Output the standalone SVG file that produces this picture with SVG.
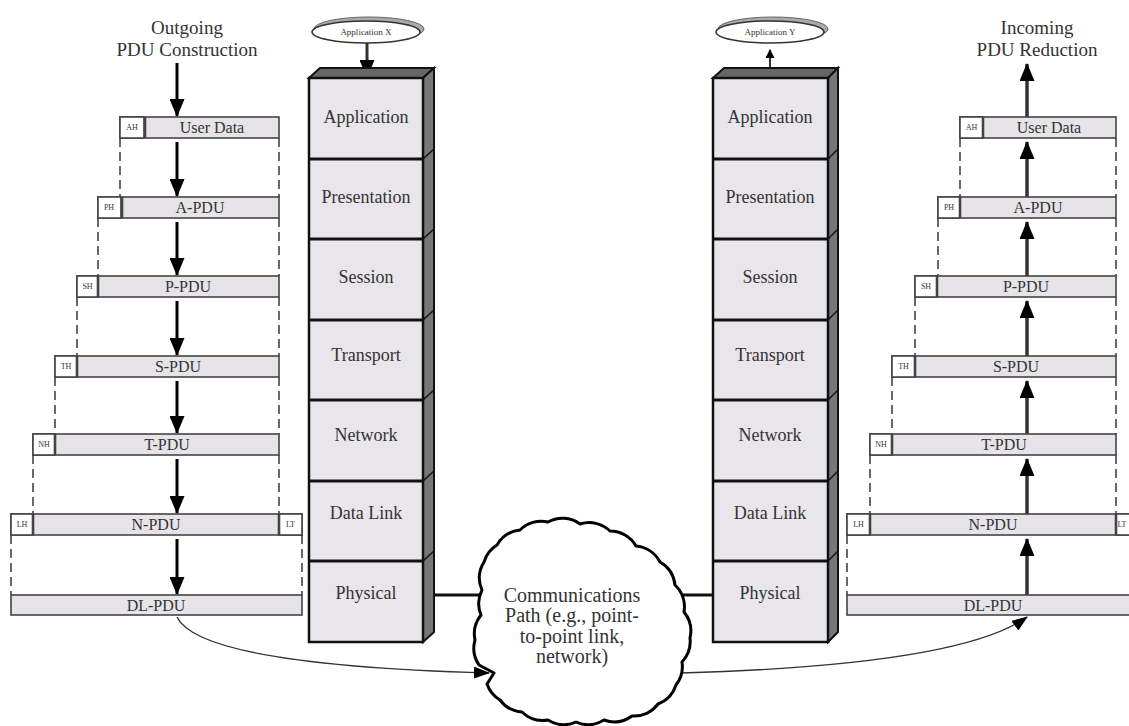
<svg xmlns="http://www.w3.org/2000/svg" width="1129" height="726" viewBox="0 0 1129 726">
<style>
text{font-family:"Liberation Serif","Times New Roman",serif;fill:#333;text-anchor:middle}
.title{font-size:19px}
.layer{font-size:18px}
.pdu{font-size:16px}
.hdr{font-size:8px}
.cloudt{font-size:20px}
.box{fill:#e6e4e9;stroke:#444;stroke-width:1.6}
.hcell{fill:#fff;stroke:#444;stroke-width:1.6}
.hsep{stroke:#444;stroke-width:2.6}
.dash{stroke:#444;stroke-width:1.6;stroke-dasharray:9 5;fill:none}
.arr{stroke:#000;stroke-width:3;marker-end:url(#ah)}
.arrr{stroke:#333;stroke-width:3.5;marker-end:url(#ah)}
.front{fill:#e8e6ea;stroke:#111;stroke-width:2.5}
.side{fill:#777;stroke:#111;stroke-width:2}
.topf{fill:#666;stroke:#111;stroke-width:2}
.div{stroke:#111;stroke-width:3}
.sdiv{stroke:#111;stroke-width:1.5}
.link{stroke:#111;stroke-width:3}
.curve{fill:none;stroke:#333;stroke-width:1.4;marker-end:url(#ch)}
</style>
<defs>
<marker id="ah" markerUnits="userSpaceOnUse" markerWidth="18" markerHeight="15" refX="17" refY="7.5" orient="auto" viewBox="0 0 18 15"><path d="M0,0 L18,7.5 L0,15 z" fill="#000"/></marker>
<marker id="ch" markerUnits="userSpaceOnUse" markerWidth="16" markerHeight="12" refX="15" refY="6" orient="auto" viewBox="0 0 16 12"><path d="M0,0 L16,6 L0,12 z" fill="#000"/></marker>
<marker id="sh" markerUnits="userSpaceOnUse" markerWidth="9" markerHeight="9" refX="8" refY="4.5" orient="auto" viewBox="0 0 9 9"><path d="M0,0 L9,4.5 L0,9 z" fill="#000"/></marker>
</defs>
<rect width="1129" height="726" fill="#fff"/>

<!-- Titles -->
<g id="title-outgoing">
<text class="title" x="187" y="34">Outgoing</text>
<text class="title" x="187" y="56">PDU Construction</text>
</g>
<g id="title-incoming">
<text class="title" x="1037" y="34">Incoming</text>
<text class="title" x="1037" y="56">PDU Reduction</text>
</g>

<!-- Connectors -->
<g id="connectors">
<line class="dash" x1="120" y1="138" x2="120" y2="197"/>
<line class="dash" x1="98" y1="218" x2="98" y2="276"/>
<line class="dash" x1="77" y1="297" x2="77" y2="356"/>
<line class="dash" x1="55" y1="377" x2="55" y2="434"/>
<line class="dash" x1="33" y1="455" x2="33" y2="514"/>
<line class="dash" x1="11" y1="535" x2="11" y2="595"/>
<line class="dash" x1="279" y1="138" x2="279" y2="197"/>
<line class="dash" x1="279" y1="218" x2="279" y2="276"/>
<line class="dash" x1="279" y1="297" x2="279" y2="356"/>
<line class="dash" x1="279" y1="377" x2="279" y2="434"/>
<line class="dash" x1="279" y1="455" x2="279" y2="514"/>
<line class="dash" x1="302" y1="535" x2="302" y2="595"/>
<line class="dash" x1="960" y1="138" x2="960" y2="197"/>
<line class="dash" x1="938" y1="218" x2="938" y2="276"/>
<line class="dash" x1="915" y1="297" x2="915" y2="356"/>
<line class="dash" x1="892" y1="377" x2="892" y2="434"/>
<line class="dash" x1="870" y1="455" x2="870" y2="514"/>
<line class="dash" x1="847" y1="535" x2="847" y2="595"/>
<line class="dash" x1="1116" y1="138" x2="1116" y2="197"/>
<line class="dash" x1="1116" y1="218" x2="1116" y2="276"/>
<line class="dash" x1="1116" y1="297" x2="1116" y2="356"/>
<line class="dash" x1="1116" y1="377" x2="1116" y2="434"/>
<line class="dash" x1="1116" y1="455" x2="1116" y2="514"/>
<line class="arr" x1="177" y1="63" x2="177" y2="116"/>
<line class="arr" x1="177" y1="142" x2="177" y2="196"/>
<line class="arr" x1="177" y1="222" x2="177" y2="275"/>
<line class="arr" x1="177" y1="301" x2="177" y2="355"/>
<line class="arr" x1="177" y1="381" x2="177" y2="433"/>
<line class="arr" x1="177" y1="459" x2="177" y2="513"/>
<line class="arr" x1="177" y1="539" x2="177" y2="594"/>
<line class="arrr" x1="1027" y1="117" x2="1027" y2="64"/>
<line class="arrr" x1="1027" y1="197" x2="1027" y2="142"/>
<line class="arrr" x1="1027" y1="276" x2="1027" y2="222"/>
<line class="arrr" x1="1027" y1="356" x2="1027" y2="301"/>
<line class="arrr" x1="1027" y1="434" x2="1027" y2="381"/>
<line class="arrr" x1="1027" y1="514" x2="1027" y2="459"/>
<line class="arrr" x1="1027" y1="595" x2="1027" y2="539"/>
<line x1="367" y1="43" x2="367" y2="77" stroke="#333" stroke-width="3" marker-end="url(#ah)"/>
<line x1="770" y1="78" x2="770" y2="50" stroke="#333" stroke-width="2" marker-end="url(#sh)"/>
<line class="link" x1="434" y1="595" x2="484" y2="595"/>
<line class="link" x1="677" y1="595" x2="713" y2="595"/>
<path class="curve" d="M177,617 Q200,665 489,673"/>
<path class="curve" d="M681,673 Q960,665 1027,617"/>
</g>

<!-- Left PDU stack -->
<g id="pdu-left-user">
<rect class="box" x="120" y="117" width="159" height="21"/>
<rect class="hcell" x="120" y="117" width="24" height="21"/>
<line class="hsep" x1="145" y1="117" x2="145" y2="138"/>
<text class="hdr" x="132" y="130">AH</text>
<text class="pdu" x="212" y="133">User Data</text>
</g>
<g id="pdu-left-a">
<rect class="box" x="98" y="197" width="181" height="21"/>
<rect class="hcell" x="98" y="197" width="23" height="21"/>
<line class="hsep" x1="122" y1="197" x2="122" y2="218"/>
<text class="hdr" x="109" y="210">PH</text>
<text class="pdu" x="200" y="213">A-PDU</text>
</g>
<g id="pdu-left-p">
<rect class="box" x="77" y="276" width="202" height="21"/>
<rect class="hcell" x="77" y="276" width="21" height="21"/>
<line class="hsep" x1="98" y1="276" x2="98" y2="297"/>
<text class="hdr" x="87.5" y="289">SH</text>
<text class="pdu" x="188" y="292">P-PDU</text>
</g>
<g id="pdu-left-s">
<rect class="box" x="55" y="356" width="224" height="21"/>
<rect class="hcell" x="55" y="356" width="22" height="21"/>
<line class="hsep" x1="77" y1="356" x2="77" y2="377"/>
<text class="hdr" x="66" y="369">TH</text>
<text class="pdu" x="178" y="372">S-PDU</text>
</g>
<g id="pdu-left-t">
<rect class="box" x="33" y="434" width="246" height="21"/>
<rect class="hcell" x="33" y="434" width="22" height="21"/>
<line class="hsep" x1="55" y1="434" x2="55" y2="455"/>
<text class="hdr" x="44" y="447">NH</text>
<text class="pdu" x="167" y="450">T-PDU</text>
</g>
<g id="pdu-left-n">
<rect class="box" x="11" y="514" width="291" height="21"/>
<rect class="hcell" x="11" y="514" width="22" height="21"/>
<rect class="hcell" x="279" y="514" width="23" height="21"/>
<line class="hsep" x1="33" y1="514" x2="33" y2="535"/>
<line class="hsep" x1="279" y1="514" x2="279" y2="535"/>
<text class="hdr" x="22" y="527">LH</text>
<text class="hdr" x="290.5" y="527">LT</text>
<text class="pdu" x="156" y="530">N-PDU</text>
</g>
<g id="pdu-left-dl">
<rect class="box" x="11" y="595" width="291" height="20"/>
<text class="pdu" x="156" y="610.5">DL-PDU</text>
</g>

<!-- Right PDU stack -->
<g id="pdu-right-user">
<rect class="box" x="960" y="117" width="156" height="21"/>
<rect class="hcell" x="960" y="117" width="23" height="21"/>
<line class="hsep" x1="983" y1="117" x2="983" y2="138"/>
<text class="hdr" x="971.5" y="130">AH</text>
<text class="pdu" x="1049" y="133">User Data</text>
</g>
<g id="pdu-right-a">
<rect class="box" x="938" y="197" width="178" height="21"/>
<rect class="hcell" x="938" y="197" width="22" height="21"/>
<line class="hsep" x1="960" y1="197" x2="960" y2="218"/>
<text class="hdr" x="949" y="210">PH</text>
<text class="pdu" x="1038" y="213">A-PDU</text>
</g>
<g id="pdu-right-p">
<rect class="box" x="915" y="276" width="201" height="21"/>
<rect class="hcell" x="915" y="276" width="22" height="21"/>
<line class="hsep" x1="937" y1="276" x2="937" y2="297"/>
<text class="hdr" x="926" y="289">SH</text>
<text class="pdu" x="1026" y="292">P-PDU</text>
</g>
<g id="pdu-right-s">
<rect class="box" x="892" y="356" width="224" height="21"/>
<rect class="hcell" x="892" y="356" width="23" height="21"/>
<line class="hsep" x1="915" y1="356" x2="915" y2="377"/>
<text class="hdr" x="903.5" y="369">TH</text>
<text class="pdu" x="1016" y="372">S-PDU</text>
</g>
<g id="pdu-right-t">
<rect class="box" x="870" y="434" width="246" height="21"/>
<rect class="hcell" x="870" y="434" width="22" height="21"/>
<line class="hsep" x1="892" y1="434" x2="892" y2="455"/>
<text class="hdr" x="881" y="447">NH</text>
<text class="pdu" x="1004" y="450">T-PDU</text>
</g>
<g id="pdu-right-n">
<rect class="box" x="847" y="514" width="293" height="21"/>
<rect class="hcell" x="847" y="514" width="23" height="21"/>
<rect class="hcell" x="1116" y="514" width="24" height="21"/>
<line class="hsep" x1="870" y1="514" x2="870" y2="535"/>
<line class="hsep" x1="1116" y1="514" x2="1116" y2="535"/>
<text class="hdr" x="858.5" y="527">LH</text>
<text class="hdr" x="1122" y="527">LT</text>
<text class="pdu" x="993" y="530">N-PDU</text>
</g>
<g id="pdu-right-dl">
<rect class="box" x="847" y="595" width="293" height="20"/>
<text class="pdu" x="993" y="610.5">DL-PDU</text>
</g>

<!-- Application X -->
<g id="app-x">
<ellipse cx="369" cy="29" rx="55" ry="12" fill="#aaa" stroke="#666" stroke-width="1"/>
<ellipse cx="366" cy="32" rx="54" ry="11" fill="#fff" stroke="#333" stroke-width="1.5"/>
<text x="366" y="35" font-size="9">Application X</text>
</g>
<!-- Application Y -->
<g id="app-y">
<ellipse cx="773" cy="29" rx="55" ry="12" fill="#aaa" stroke="#666" stroke-width="1"/>
<ellipse cx="770" cy="32" rx="54" ry="11" fill="#fff" stroke="#333" stroke-width="1.5"/>
<text x="770" y="35" font-size="9">Application Y</text>
</g>

<!-- Left OSI stack -->
<g id="stack-left">
<polygon class="topf" points="309,78 320,68 434,68 423,78"/>
<polygon class="side" points="423,78 434,68 434,632 423,642"/>
<line class="sdiv" x1="423" y1="159" x2="434" y2="149"/>
<line class="sdiv" x1="423" y1="239" x2="434" y2="229"/>
<line class="sdiv" x1="423" y1="320" x2="434" y2="310"/>
<line class="sdiv" x1="423" y1="400" x2="434" y2="390"/>
<line class="sdiv" x1="423" y1="481" x2="434" y2="471"/>
<line class="sdiv" x1="423" y1="561" x2="434" y2="551"/>
<rect class="front" x="309" y="78" width="114" height="564"/>
<line class="div" x1="309" y1="159" x2="423" y2="159"/>
<line class="div" x1="309" y1="239" x2="423" y2="239"/>
<line class="div" x1="309" y1="320" x2="423" y2="320"/>
<line class="div" x1="309" y1="400" x2="423" y2="400"/>
<line class="div" x1="309" y1="481" x2="423" y2="481"/>
<line class="div" x1="309" y1="561" x2="423" y2="561"/>
<text class="layer" x="366" y="123">Application</text>
<text class="layer" x="366" y="203">Presentation</text>
<text class="layer" x="366" y="283">Session</text>
<text class="layer" x="366" y="361">Transport</text>
<text class="layer" x="366" y="441">Network</text>
<text class="layer" x="366" y="519">Data Link</text>
<text class="layer" x="366" y="599">Physical</text>
</g>

<!-- Right OSI stack -->
<g id="stack-right">
<polygon class="topf" points="713,78 724,68 838,68 828,78"/>
<polygon class="side" points="828,78 838,68 838,632 828,642"/>
<line class="sdiv" x1="828" y1="159" x2="838" y2="149"/>
<line class="sdiv" x1="828" y1="239" x2="838" y2="229"/>
<line class="sdiv" x1="828" y1="320" x2="838" y2="310"/>
<line class="sdiv" x1="828" y1="400" x2="838" y2="390"/>
<line class="sdiv" x1="828" y1="481" x2="838" y2="471"/>
<line class="sdiv" x1="828" y1="561" x2="838" y2="551"/>
<rect class="front" x="713" y="78" width="115" height="564"/>
<line class="div" x1="713" y1="159" x2="828" y2="159"/>
<line class="div" x1="713" y1="239" x2="828" y2="239"/>
<line class="div" x1="713" y1="320" x2="828" y2="320"/>
<line class="div" x1="713" y1="400" x2="828" y2="400"/>
<line class="div" x1="713" y1="481" x2="828" y2="481"/>
<line class="div" x1="713" y1="561" x2="828" y2="561"/>
<text class="layer" x="770" y="123">Application</text>
<text class="layer" x="770" y="203">Presentation</text>
<text class="layer" x="770" y="283">Session</text>
<text class="layer" x="770" y="361">Transport</text>
<text class="layer" x="770" y="441">Network</text>
<text class="layer" x="770" y="519">Data Link</text>
<text class="layer" x="770" y="599">Physical</text>
</g>

<!-- Cloud -->
<g id="cloud">
<path d="M497,545 A30,30 0 0 1 520,530 A30,30 0 0 1 548,522 A30,30 0 0 1 580,524 A30,30 0 0 1 610,531 A30,30 0 0 1 636,546 A30,30 0 0 1 660,562 A30,30 0 0 1 675,585 A30,30 0 0 1 684,612 A30,30 0 0 1 690,638 A30,30 0 0 1 682,662 A30,30 0 0 1 676,685 A30,30 0 0 1 658,704 A30,30 0 0 1 632,716 A30,30 0 0 1 604,720 A30,30 0 0 1 576,722 A30,30 0 0 1 548,720 A30,30 0 0 1 522,712 A30,30 0 0 1 500,700 A30,30 0 0 1 487,684 L494,673 L479,665 A30,30 0 0 1 475,640 A30,30 0 0 1 481,615 A30,30 0 0 1 482,590 A30,30 0 0 1 484,562 A30,30 0 0 1 497,545 Z" fill="#fff" stroke="#000" stroke-width="3" stroke-linejoin="round"/>
<text class="cloudt" x="572" y="602">Communications</text>
<text class="cloudt" x="572" y="622">Path (e.g., point-</text>
<text class="cloudt" x="572" y="643">to-point link,</text>
<text class="cloudt" x="572" y="663">network)</text>
</g>
</svg>
